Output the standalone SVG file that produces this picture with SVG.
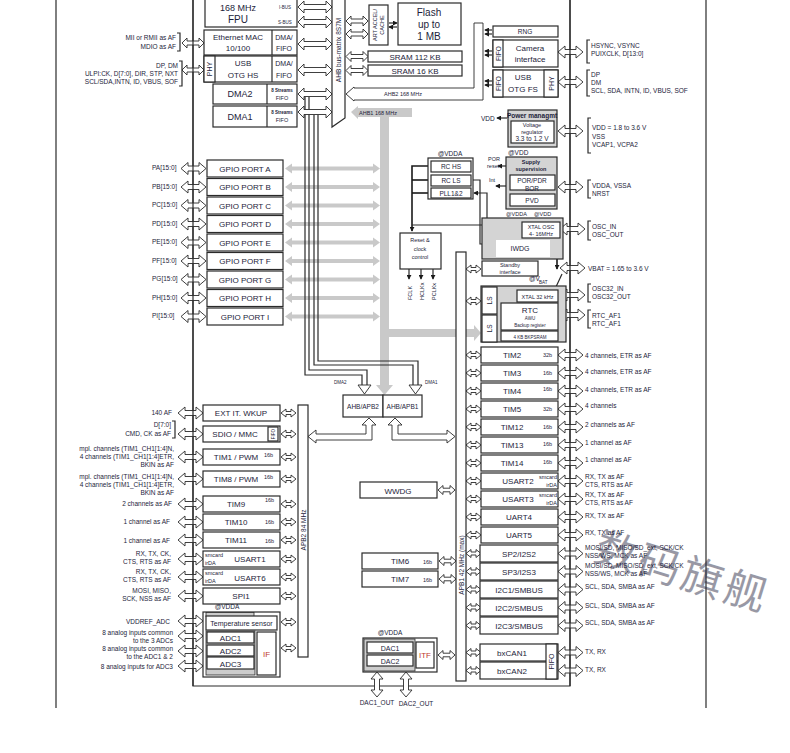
<svg xmlns="http://www.w3.org/2000/svg" width="790" height="753" viewBox="0 0 790 753">
<defs>
<style>
text{font-family:"Liberation Sans",Arial,sans-serif;fill:#1d1d3a}
.b{fill:#fff;stroke:#2a2a2a;stroke-width:1.2}
.g{fill:#d4d4d4;stroke:#2a2a2a;stroke-width:1.2}
.a{fill:#fff;stroke:#2a2a2a;stroke-width:0.9}
.ln{fill:none;stroke:#2a2a2a;stroke-width:1.2}
.ck{fill:none;stroke:#1a1a1a;stroke-width:1.6}
.gr{fill:#c9c9c9}
.m{text-anchor:middle}
.e{text-anchor:end}
.f9{font-size:9px}
.f8{font-size:8px}
.f7{font-size:7px}
.f6{font-size:6.5px}
.f5{font-size:5.5px}
.f4{font-size:4.5px}
.red{fill:#c0392b}
</style>
<path id="dA" d="M0,0 L7,-6 L7,-2.5 L18,-2.5 L18,-6 L25,0 L18,6 L18,2.5 L7,2.5 L7,6 Z"/>
<path id="dS" d="M0,0 L5,-4 L5,-1.5 L10,-1.5 L10,-4 L15,0 L10,4 L10,1.5 L5,1.5 L5,4 Z"/>
<path id="dM" d="M0,0 L5,-4.5 L5,-1.8 L12,-1.8 L12,-4.5 L17,0 L12,4.5 L12,1.8 L5,1.8 L5,4.5 Z"/>
<path id="dT" d="M0,0 L6,-6 L6,-2.5 L28,-2.5 L28,-6 L34,0 L28,6 L28,2.5 L6,2.5 L6,6 Z"/>
<path id="dR" d="M0,0 L5,-5 L5,-2 L17,-2 L17,-5 L22,0 L17,5 L17,2 L5,2 L5,5 Z"/>
<path id="gA" d="M0,0 L7,-5 L7,-2 L88,-2 L88,-5 L95,0 L88,5 L88,2 L7,2 L7,5 Z"/>
<marker id="ah" viewBox="0 0 6 6" refX="5" refY="3" markerWidth="5" markerHeight="5" markerUnits="userSpaceOnUse" orient="auto"><path d="M0,0 L6,3 L0,6 Z" fill="#1a1a1a"/></marker>
</defs>
<rect width="790" height="753" fill="#fff"/>

<g id="frame" class="ln">
<line x1="56" y1="0" x2="56" y2="708"/>
<line x1="706" y1="0" x2="706" y2="708"/>
</g>

<!-- gray AHB1 bus -->
<g id="ahb1-bus">
<path class="gr" d="M351,112 L358,106 L358,108 L412,108 L412,117 L389,117 L389,385 L393,385 L384.5,395 L376,385 L380,385 L380,117 L358,117 L358,119 Z"/>
<path class="gr" d="M389,329 L474,329 L474,325 L481,333 L474,341 L474,337 L389,337 Z"/>
<use href="#gA" class="gr" x="285" y="168.5"/>
<use href="#gA" class="gr" x="285" y="187"/>
<use href="#gA" class="gr" x="285" y="205.5"/>
<use href="#gA" class="gr" x="285" y="224"/>
<use href="#gA" class="gr" x="285" y="242.5"/>
<use href="#gA" class="gr" x="285" y="261"/>
<use href="#gA" class="gr" x="285" y="279.5"/>
<use href="#gA" class="gr" x="285" y="298"/>
<use href="#gA" class="gr" x="285" y="316.5"/>
<text class="f5" x="359" y="114.5">AHB1 168 MHz</text>
</g>

<g id="connectors">
<path class="ln" stroke-width="1.5" d="M193,0 V686 H570 V0"/>
<path class="ln" stroke-width="1" d="M305,97 V375 H362 V385"/>
<path class="ln" stroke-width="1" d="M309,97 V370 H367 V385"/>
<path class="a" d="M358,385 L371,385 L364.5,394 Z"/>
<path class="ln" stroke-width="1" d="M314,115 V365 H413 V385"/>
<path class="ln" stroke-width="1" d="M318,115 V361 H418 V385"/>
<path class="a" d="M409,385 L422,385 L415.5,394 Z"/>
<text class="f4" x="334" y="384">DMA2</text>
<text class="f4" x="425" y="384">DMA1</text>
<path class="a" d="M308,436.5 L316,430 L316,434 L366,434 L366,425 L362,425 L369,418 L376,425 L372,425 L372,440 L316,440 L316,443 Z"/>
<path class="a" d="M455,436.5 L447,430 L447,434 L398,434 L398,425 L402,425 L395,418 L388,425 L392,425 L392,440 L447,440 L447,443 Z"/>
<path class="a" d="M346,94 L354,87 L354,88 L474,88 L474,23 L483,23 L483,100 L354,100 L354,101 Z"/>
<text class="f5" x="384" y="96">AHB2 168 MHz</text>
<use href="#dT" class="a" x="298" y="7"/>
<use href="#dT" class="a" x="298" y="22"/>
<use href="#dT" class="a" x="298" y="44"/>
<use href="#dT" class="a" x="298" y="70"/>
<use href="#dT" class="a" x="298" y="94"/>
<use href="#dT" class="a" x="298" y="112"/>
<use href="#dR" class="a" x="346" y="21"/>
<use href="#dR" class="a" x="346" y="34"/>
<use href="#dR" class="a" x="346" y="56.5"/>
<use href="#dR" class="a" x="346" y="70.5"/>
<line class="ln" stroke-width="0.9" x1="389" y1="23" x2="397" y2="23" marker-end="url(#ah)"/>
<line class="ln" stroke-width="0.9" x1="397" y1="27" x2="389" y2="27" marker-end="url(#ah)"/>
<line class="ln" stroke-width="0.9" x1="492" y1="30" x2="485" y2="30" marker-end="url(#ah)"/>
<line class="ln" stroke-width="0.9" x1="492" y1="34" x2="485" y2="34" marker-end="url(#ah)"/>
<line class="ln" stroke-width="0.9" x1="492" y1="51" x2="485" y2="51" marker-end="url(#ah)"/>
<line class="ln" stroke-width="0.9" x1="492" y1="55" x2="485" y2="55" marker-end="url(#ah)"/>
<line class="ln" stroke-width="0.9" x1="492" y1="81" x2="485" y2="81" marker-end="url(#ah)"/>
<line class="ln" stroke-width="0.9" x1="492" y1="85" x2="485" y2="85" marker-end="url(#ah)"/>
<use href="#dR" class="a" x="182" y="43"/>
<use href="#dR" class="a" x="182" y="70"/>
<use href="#dA" class="a" x="181" y="168.5"/>
<use href="#dA" class="a" x="181" y="187"/>
<use href="#dA" class="a" x="181" y="205.5"/>
<use href="#dA" class="a" x="181" y="224"/>
<use href="#dA" class="a" x="181" y="242.5"/>
<use href="#dA" class="a" x="181" y="261"/>
<use href="#dA" class="a" x="181" y="279.5"/>
<use href="#dA" class="a" x="181" y="298"/>
<use href="#dA" class="a" x="181" y="316.5"/>
<use href="#dA" class="a" x="178" y="413"/>
<use href="#dA" class="a" x="178" y="434"/>
<use href="#dA" class="a" x="178" y="457"/>
<use href="#dA" class="a" x="178" y="479"/>
<use href="#dA" class="a" x="178" y="504"/>
<use href="#dA" class="a" x="178" y="522"/>
<use href="#dA" class="a" x="178" y="540"/>
<use href="#dA" class="a" x="178" y="559"/>
<use href="#dA" class="a" x="178" y="577"/>
<use href="#dA" class="a" x="178" y="596"/>
<use href="#dA" class="a" x="178" y="621"/>
<use href="#dA" class="a" x="178" y="636"/>
<use href="#dA" class="a" x="178" y="651"/>
<use href="#dA" class="a" x="178" y="666"/>
<use href="#dS" class="a" x="281" y="413"/>
<use href="#dS" class="a" x="281" y="434"/>
<use href="#dS" class="a" x="281" y="457"/>
<use href="#dS" class="a" x="281" y="479"/>
<use href="#dS" class="a" x="281" y="504"/>
<use href="#dS" class="a" x="281" y="522"/>
<use href="#dS" class="a" x="281" y="540"/>
<use href="#dS" class="a" x="281" y="559"/>
<use href="#dS" class="a" x="281" y="577"/>
<use href="#dS" class="a" x="281" y="596"/>
<use href="#dS" class="a" x="281" y="622"/>
<use href="#dS" class="a" x="281" y="648"/>
<use href="#dS" class="a" x="466" y="269"/>
<use href="#dS" class="a" x="466" y="301"/>
<use href="#dS" class="a" x="466" y="355"/>
<use href="#dS" class="a" x="466" y="373"/>
<use href="#dS" class="a" x="466" y="391"/>
<use href="#dS" class="a" x="466" y="409"/>
<use href="#dS" class="a" x="466" y="427"/>
<use href="#dS" class="a" x="466" y="445"/>
<use href="#dS" class="a" x="466" y="463"/>
<use href="#dS" class="a" x="466" y="481"/>
<use href="#dS" class="a" x="466" y="499"/>
<use href="#dS" class="a" x="466" y="517"/>
<use href="#dS" class="a" x="466" y="535"/>
<use href="#dS" class="a" x="466" y="553.5"/>
<use href="#dS" class="a" x="466" y="571.5"/>
<use href="#dS" class="a" x="466" y="589.5"/>
<use href="#dS" class="a" x="466" y="607.5"/>
<use href="#dS" class="a" x="466" y="625.5"/>
<use href="#dS" class="a" x="466" y="652.5"/>
<use href="#dS" class="a" x="466" y="670.5"/>
<use href="#dM" class="a" x="438" y="490"/>
<use href="#dM" class="a" x="439" y="561"/>
<use href="#dM" class="a" x="439" y="579"/>
<use href="#dM" class="a" x="438" y="655"/>
<use href="#dA" class="a" x="558" y="52"/>
<use href="#dA" class="a" x="558" y="82"/>
<use href="#dA" class="a" x="558" y="131"/>
<use href="#dA" class="a" x="558" y="187"/>
<use href="#dA" class="a" x="560" y="229"/>
<use href="#dA" class="a" x="560" y="268"/>
<use href="#dA" class="a" x="560" y="295"/>
<use href="#dA" class="a" x="560" y="315"/>
<use href="#dA" class="a" x="558" y="355"/>
<use href="#dA" class="a" x="558" y="373"/>
<use href="#dA" class="a" x="558" y="391"/>
<use href="#dA" class="a" x="558" y="409"/>
<use href="#dA" class="a" x="558" y="427"/>
<use href="#dA" class="a" x="558" y="445"/>
<use href="#dA" class="a" x="558" y="463"/>
<use href="#dA" class="a" x="558" y="481"/>
<use href="#dA" class="a" x="558" y="499"/>
<use href="#dA" class="a" x="558" y="517"/>
<use href="#dA" class="a" x="558" y="535"/>
<use href="#dA" class="a" x="558" y="553.5"/>
<use href="#dA" class="a" x="558" y="571.5"/>
<use href="#dA" class="a" x="558" y="589.5"/>
<use href="#dA" class="a" x="558" y="607.5"/>
<use href="#dA" class="a" x="558" y="625.5"/>
<use href="#dA" class="a" x="558" y="652.5"/>
<use href="#dA" class="a" x="558" y="670.5"/>
<use href="#dA" class="a" transform="translate(377,672) rotate(90)"/>
<use href="#dA" class="a" transform="translate(406,672) rotate(90)"/>
<line class="ln" x1="193" y1="0" x2="193" y2="686"/>
<line class="ln" x1="570" y1="0" x2="570" y2="686"/>
<path class="ck" d="M431,166 H412 V231" marker-end="url(#ah)"/>
<path class="ck" d="M431,180 H412"/>
<path class="ck" d="M431,193 H412"/>
<path class="ln" d="M522,225 H412"/>
<path class="ln" d="M487,225 V193 H474" marker-end="url(#ah)"/>
<path class="ln" d="M471,180 H480 V244 H494" marker-end="url(#ah)"/>
<line class="ln" x1="409" y1="269" x2="409" y2="279" marker-end="url(#ah)"/>
<line class="ln" x1="421" y1="269" x2="421" y2="279" marker-end="url(#ah)"/>
<line class="ln" x1="433" y1="269" x2="433" y2="279" marker-end="url(#ah)"/>
<line class="ln" x1="507" y1="118" x2="497" y2="118" marker-end="url(#ah)"/>
<path class="ln" d="M506,166 H498" marker-end="url(#ah)"/>
<path class="ln" d="M506,186 H496" marker-end="url(#ah)"/>
<line class="ck" x1="557" y1="259" x2="557" y2="269" marker-end="url(#ah)"/>
<line class="ln" x1="555" y1="289" x2="562" y2="274"/>
<path class="ln" d="M517,296 H507 V302" marker-end="url(#ah)"/>
<path class="ln" stroke-width="1" d="M177,33 H180 V51 H177 M179,61 H182 V86 H179 M172,421 H175 V438 H172 M590,40 H587 V63 H590 M590,70 H587 V96 H590 M591,118 H588 V153 H591 M591,180 H588 V198 H591 M591,221 H588 V240 H591 M591,284 H588 V302 H591 M591,310 H588 V328 H591"/>
</g>

<g id="fpu"><rect class="b" x="205" y="-2" width="92" height="29"/><text class="m f9" x="238" y="11">168 MHz</text><text class="m" font-size="10" x="238" y="23">FPU</text><text class="m f4" x="285" y="9">I-BUS</text><text class="m f4" x="285" y="24">S-BUS</text></g>
<g id="ethernet"><rect class="b" x="204" y="30" width="93" height="25"/><line class="ln" x1="272" y1="30" x2="272" y2="55"/><text class="m f8" x="238" y="40" font-size="8.5">Ethernet MAC</text><text class="m f8" x="238" y="51">10/100</text><text class="m f7" x="284" y="40">DMA/</text><text class="m f7" x="284" y="51">FIFO</text></g>
<g id="usb-hs"><rect class="b" x="204" y="56" width="93" height="26"/><rect class="b" x="204" y="56" width="11" height="26"/><line class="ln" x1="272" y1="56" x2="272" y2="82"/><text class="m f7" transform="translate(212,69) rotate(-90)">PHY</text><text class="m f8" x="243" y="66" font-size="8.5">USB</text><text class="m f8" x="243" y="78" font-size="8.5">OTG HS</text><text class="m f7" x="284" y="66">DMA/</text><text class="m f7" x="284" y="78">FIFO</text></g>
<g id="dma2"><rect class="b" x="213" y="84" width="84" height="20"/><line class="ln" x1="267" y1="84" x2="267" y2="104"/><text class="m f9" x="240" y="97">DMA2</text><text class="m f4" x="282" y="92" font-weight="bold">8 Streams</text><text class="m f5" x="282" y="100">FIFO</text></g>
<g id="dma1"><rect class="b" x="213" y="106" width="84" height="21"/><line class="ln" x1="267" y1="106" x2="267" y2="127"/><text class="m f9" x="240" y="120">DMA1</text><text class="m f4" x="282" y="114" font-weight="bold">8 Streams</text><text class="m f5" x="282" y="122">FIFO</text></g>
<g id="bus-matrix"><polygon class="b" points="332,-2 345,-2 345,118 332,127"/><text class="m f6" transform="translate(341,50) rotate(-90)">AHB bus-matrix 8S7M</text></g>
<g id="art"><rect class="b" x="369" y="5" width="19" height="40"/><text class="m f5" transform="translate(377,25) rotate(-90)">ART ACCEL/</text><text class="m f5" transform="translate(384,25) rotate(-90)">CACHE</text></g>
<g id="flash"><rect class="b" x="398" y="3" width="63" height="42"/><text class="m" font-size="10" x="429" y="16">Flash</text><text class="m" font-size="10" x="429" y="28">up to</text><text class="m" font-size="10" x="429" y="40">1 MB</text></g>
<g id="sram112"><rect class="b" x="368" y="51" width="94" height="11"/><text class="m f8" x="415" y="59.5">SRAM 112 KB</text></g>
<g id="sram16"><rect class="b" x="368" y="65" width="94" height="11"/><text class="m f8" x="415" y="73.5">SRAM 16 KB</text></g>

<g id="rng"><rect class="b" x="493" y="26" width="65" height="11"/><text class="m f6" x="525" y="34">RNG</text></g>
<g id="camera"><rect class="b" x="493" y="40" width="65" height="27"/><rect class="b" x="493" y="40" width="10" height="27"/><text class="m f6" transform="translate(500.5,53.5) rotate(-90)">FIFO</text><text class="m f8" font-size="8.5" x="530" y="51">Camera</text><text class="m f8" font-size="8.5" x="530" y="62">interface</text></g>
<g id="usb-fs"><rect class="b" x="493" y="70" width="65" height="27"/><rect class="b" x="493" y="70" width="10" height="27"/><rect class="b" x="544" y="70" width="14" height="27"/><text class="m f6" transform="translate(500.5,83.5) rotate(-90)">FIFO</text><text class="m f7" transform="translate(553.5,83.5) rotate(-90)">PHY</text><text class="m f8" font-size="8.5" x="523" y="80">USB</text><text class="m f8" font-size="8.5" x="523" y="92">OTG FS</text></g>

<g id="labels-top">
<text class="e f6" x="176" y="40">MII or RMII as AF</text>
<text class="e f6" x="176" y="49">MDIO as AF</text>
<text class="e f6" x="178" y="68">DP, DM</text>
<text class="e f6" x="178" y="76">ULPI:CK, D[7:0], DIR, STP, NXT</text>
<text class="e f6" x="178" y="84">SCL/SDA,INTN, ID, VBUS, SOF</text>
<text class="f6" x="591" y="48">HSYNC, VSYNC</text>
<text class="f6" x="591" y="56">PUIXCLK, D[13:0]</text>
<text class="f6" x="591" y="77">DP</text>
<text class="f6" x="591" y="85">DM</text>
<text class="f6" x="591" y="93">SCL, SDA, INTN, ID, VBUS, SOF</text>
</g>

<g id="power"><rect class="g" x="508" y="110" width="49" height="37"/><text class="m f6" font-weight="bold" x="532" y="118">Power managmt</text><rect class="b" x="511" y="121" width="43" height="22"/><text class="m f5" x="532" y="127">Voltage</text><text class="m f5" x="532" y="133.5">regulator</text><text class="m f6" x="532" y="140.5">3.3 to 1.2 V</text></g>
<text class="f6" x="481" y="120.5">VDD</text>
<text class="f6" x="508" y="154.5">@VDD</text>
<g id="labels-power">
<text class="f6" x="592" y="130">VDD = 1.8 to 3.6 V</text>
<text class="f6" x="592" y="139">VSS</text>
<text class="f6" x="592" y="147">VCAP1, VCPA2</text>
<text class="f6" x="592" y="188">VDDA, VSSA</text>
<text class="f6" x="592" y="196">NRST</text>
<text class="f6" x="592" y="229">OSC_IN</text>
<text class="f6" x="592" y="237">OSC_OUT</text>
<text class="f6" x="588" y="270.5">VBAT = 1.65 to 3.6 V</text>
<text class="f6" x="592" y="291">OSC32_IN</text>
<text class="f6" x="592" y="299">OSC32_OUT</text>
<text class="f6" x="592" y="318">RTC_AF1</text>
<text class="f6" x="592" y="326">RTC_AF1</text>
</g>
<g id="rc"><text class="m f6" x="450" y="155.5">@VDDA</text><rect class="b" x="428" y="158" width="45" height="41" stroke-width="1.6"/><rect class="b" x="431" y="161" width="40" height="11"/><text class="m f6" x="451" y="169">RC HS</text><rect class="b" x="431" y="175" width="40" height="11"/><text class="m f6" x="451" y="183">RC LS</text><rect class="b" x="431" y="188" width="40" height="10"/><text class="m f6" x="451" y="195.5">PLL1&amp;2</text></g>
<g id="supply"><rect class="g" x="506" y="157" width="51" height="52"/><text class="m f5" font-weight="bold" x="531" y="164">Supply</text><text class="m f5" font-weight="bold" x="531" y="171">supervision</text><rect class="b" x="510" y="175" width="45" height="15"/><text class="m f6" x="532" y="183">POR/PDR</text><text class="m f6" x="532" y="190.5">BOR</text><rect class="b" x="510" y="194" width="45" height="12"/><text class="m f6" x="532" y="202.5">PVD</text></g>
<text class="f5" x="488" y="161">POR</text>
<text class="f5" x="487" y="168">reset</text>
<text class="f5" x="489" y="182">Int</text>
<text class="f5" x="506" y="216">@VDDA</text>
<text class="f5" x="534" y="215.5">@VDD</text>
<g id="reset-clock"><rect class="b" x="400" y="233" width="41" height="36"/><text class="m f5" x="420" y="242">Reset &amp;</text><text class="m f5" x="420" y="250.5">clock</text><text class="m f5" x="420" y="259">control</text><text class="f5" transform="translate(411.5,300) rotate(-90)">FCLK</text><text class="f5" transform="translate(423.5,300) rotate(-90)">HCLKx</text><text class="f5" transform="translate(435.5,300) rotate(-90)">PCLKx</text></g>
<g id="xtal-iwdg"><rect class="g" x="482" y="218" width="81" height="41"/><rect class="b" x="522" y="222" width="38" height="16"/><text class="m f5" x="541" y="229">XTAL OSC</text><text class="m f5" x="541" y="236">4- 16MHz</text><rect fill="#fff" stroke="none" x="496" y="240" width="54" height="17"/><text class="m f7" x="520" y="251">IWDG</text></g>
<g id="standby"><rect class="b" x="482" y="261" width="56" height="15"/><text class="m f5" x="510" y="267">Standby</text><text class="m f5" x="510" y="274">interface</text></g>
<text class="f6" x="529" y="281">@V</text><text class="f4" x="539" y="283.5">BAT</text>
<g id="rtc"><rect class="g" x="481" y="286" width="85" height="56"/><rect class="b" x="482" y="287" width="15" height="27"/><rect class="b" x="482" y="315" width="15" height="27"/><text class="m f6" transform="translate(492,300.5) rotate(-90)">LS</text><text class="m f6" transform="translate(492,328.5) rotate(-90)">LS</text><rect class="b" x="517" y="290" width="41" height="12"/><text class="m f5" x="537.5" y="298.5">XTAL 32 kHz</text><rect class="b" x="501" y="303" width="57" height="27"/><text class="m f8" x="530" y="312.5">RTC</text><text class="m f4" x="530" y="320">AWU</text><text class="m f4" x="530" y="326.5">Backup register</text><rect class="b" x="501" y="331" width="57" height="10"/><text class="m f4" x="530" y="338.5">4 KB BKPSRAM</text></g>

<g id="gpio-a"><rect class="b" x="207" y="160" width="76" height="17"/><text class="m f8" x="245" y="171.5">GPIO PORT A</text><text class="f6" x="152" y="170">PA[15:0]</text></g>
<g id="gpio-b"><rect class="b" x="207" y="178.5" width="76" height="17"/><text class="m f8" x="245" y="190">GPIO PORT B</text><text class="f6" x="152" y="188.5">PB[15:0]</text></g>
<g id="gpio-c"><rect class="b" x="207" y="197" width="76" height="17"/><text class="m f8" x="245" y="208.5">GPIO PORT C</text><text class="f6" x="152" y="207">PC[15:0]</text></g>
<g id="gpio-d"><rect class="b" x="207" y="215.5" width="76" height="17"/><text class="m f8" x="245" y="227">GPIO PORT D</text><text class="f6" x="152" y="225.5">PD[15:0]</text></g>
<g id="gpio-e"><rect class="b" x="207" y="234" width="76" height="17"/><text class="m f8" x="245" y="245.5">GPIO PORT E</text><text class="f6" x="152" y="244">PE[15:0]</text></g>
<g id="gpio-f"><rect class="b" x="207" y="252.5" width="76" height="17"/><text class="m f8" x="245" y="264">GPIO PORT F</text><text class="f6" x="152" y="262.5">PF[15:0]</text></g>
<g id="gpio-g"><rect class="b" x="207" y="271" width="76" height="17"/><text class="m f8" x="245" y="282.5">GPIO PORT G</text><text class="f6" x="152" y="281">PG[15:0]</text></g>
<g id="gpio-h"><rect class="b" x="207" y="289.5" width="76" height="17"/><text class="m f8" x="245" y="301">GPIO PORT H</text><text class="f6" x="152" y="299.5">PH[15:0]</text></g>
<g id="gpio-i"><rect class="b" x="207" y="308" width="76" height="17"/><text class="m f8" x="245" y="319.5">GPIO PORT I</text><text class="f6" x="152" y="318">PI[15:0]</text></g>

<g id="ahb-apb2"><rect class="b" x="343" y="395" width="40" height="22"/><text class="m f6" x="363" y="408.5">AHB/APB2</text></g>
<g id="ahb-apb1"><rect class="b" x="383" y="395" width="39" height="22"/><text class="m f6" x="402.5" y="408.5">AHB/APB1</text></g>
<g id="apb2"><rect class="b" x="298" y="405" width="10" height="252"/><text class="m f6" transform="translate(305.5,530) rotate(-90)">APB2 84 MHz</text></g>
<g id="apb1"><rect class="b" x="456" y="252" width="10" height="429"/><text class="m f6" transform="translate(463.5,565) rotate(-90)">APB1 42 MHz (max)</text></g>

<g id="extit"><rect class="b" x="203" y="405" width="77" height="16"/><text class="m f8" x="241" y="416">EXT IT. WKUP</text><text class="e f6" x="172" y="415">140 AF</text></g>
<g id="sdio"><rect class="b" x="203" y="426" width="77" height="16"/><rect class="b" x="268" y="427" width="10" height="14"/><text class="m f4" transform="translate(274.5,434) rotate(-90)">FIFO</text><text class="m f8" x="235" y="437">SDIO / MMC</text><text class="e f6" x="171" y="427">D[7:0]</text><text class="e f6" x="171" y="436">CMD, CK as AF</text></g>
<g id="tim1"><rect class="b" x="203" y="449" width="77" height="16"/><text class="m f8" x="236" y="460">TIM1 / PWM</text><text class="f5" x="264" y="457">16b</text><text class="e f6" x="174" y="451">mpl. channels (TIM1_CH1[1:4]N,</text><text class="e f6" x="174" y="459">4 channels (TIM1_CH1[1:4]ETR,</text><text class="e f6" x="174" y="467">BKIN as AF</text></g>
<g id="tim8"><rect class="b" x="203" y="471" width="77" height="16"/><text class="m f8" x="236" y="482">TIM8 / PWM</text><text class="f5" x="264" y="479">16b</text><text class="e f6" x="174" y="479">mpl. channels (TIM1_CH1[1:4]N,</text><text class="e f6" x="174" y="487">4 channels (TIM1_CH1[1:4]ETR,</text><text class="e f6" x="174" y="495">BKIN as AF</text></g>
<g id="tim9"><rect class="b" x="203" y="496" width="77" height="16"/><text class="m f8" x="236" y="507">TIM9</text><text class="f5" x="265" y="502">16b</text><text class="e f6" x="172" y="506">2 channels as AF</text></g>
<g id="tim10"><rect class="b" x="203" y="514" width="77" height="16"/><text class="m f8" x="236" y="525">TIM10</text><text class="f5" x="265" y="524">16b</text><text class="e f6" x="170" y="524">1 channel as AF</text></g>
<g id="tim11"><rect class="b" x="203" y="532" width="77" height="16"/><text class="m f8" x="236" y="543">TIM11</text><text class="f5" x="265" y="543">16b</text><text class="e f6" x="170" y="543">1 channel as AF</text></g>
<g id="usart1"><rect class="b" x="203" y="551" width="77" height="16"/><text class="f5" x="205" y="557">smcard</text><text class="f5" x="205" y="565">irDA</text><text class="m f8" x="250" y="562">USART1</text><text class="e f6" x="171" y="556">RX, TX, CK,</text><text class="e f6" x="171" y="564">CTS, RTS as AF</text></g>
<g id="usart6"><rect class="b" x="203" y="569" width="77" height="16"/><text class="f5" x="205" y="575">smcard</text><text class="f5" x="205" y="583">irDA</text><text class="m f8" x="250" y="581">USART6</text><text class="e f6" x="171" y="574">RX, TX, CK,</text><text class="e f6" x="171" y="582">CTS, RTS as AF</text></g>
<g id="spi1"><rect class="b" x="203" y="588" width="77" height="16"/><text class="m f8" x="241" y="599">SPI1</text><text class="e f6" x="171" y="593">MOSI, MISO,</text><text class="e f6" x="171" y="601">SCK, NSS as AF</text></g>
<g id="adc"><text class="m f6" x="227" y="609">@VDDA</text><rect class="b" x="203" y="612" width="77" height="65"/><rect fill="#ccc" stroke="#2a2a2a" stroke-width="0.8" x="206" y="612.5" width="48" height="4"/><rect class="b" x="206" y="616" width="71" height="14"/><text class="m f7" x="241.5" y="626">Temperature sensor</text><rect fill="#ccc" stroke="#2a2a2a" stroke-width="0.8" x="206" y="631" width="49" height="44"/><rect class="b" x="207" y="632" width="47" height="11"/><text class="m f8" x="230.5" y="641">ADC1</text><rect class="b" x="207" y="645" width="47" height="11"/><text class="m f8" x="230.5" y="654">ADC2</text><rect class="b" x="207" y="657" width="47" height="12"/><text class="m f8" x="230.5" y="666.5">ADC3</text><rect class="b" x="257" y="632" width="19" height="43"/><text class="m f8 red" x="266.5" y="657">IF</text></g>
<g id="labels-adc">
<text class="e f6" x="170" y="624">VDDREF_ADC</text>
<text class="e f6" x="173" y="635">8 analog inputs common</text>
<text class="e f6" x="173" y="643">to the 3 ADCs</text>
<text class="e f6" x="173" y="651">8 analog inputs common</text>
<text class="e f6" x="173" y="659">to the ADC1 &amp; 2</text>
<text class="e f6" x="173" y="669">8 analog inputs for ADC3</text>
</g>

<g id="wwdg"><rect class="b" x="360" y="482" width="77" height="16"/><text class="m f8" x="398" y="493.5">WWDG</text></g>
<g id="tim6"><rect class="b" x="362" y="553" width="76" height="16"/><text class="m f8" x="400" y="564">TIM6</text><text class="f5" x="423" y="564">16b</text></g>
<g id="tim7"><rect class="b" x="362" y="571" width="76" height="16"/><text class="m f8" x="400" y="582">TIM7</text><text class="f5" x="423" y="582">16b</text></g>
<g id="dac"><text class="m f6" x="390" y="635">@VDDA</text><rect class="b" x="363" y="638" width="74" height="34"/><rect fill="#ccc" stroke="#2a2a2a" stroke-width="0.8" x="364" y="639" width="51" height="32"/><rect class="b" x="367" y="642" width="46" height="11"/><text class="m f7" x="390" y="650.5">DAC1</text><rect class="b" x="367" y="655" width="46" height="11"/><text class="m f7" x="390" y="663.5">DAC2</text><rect class="b" x="416" y="642" width="18" height="26"/><text class="m f8 red" x="425" y="658">ITF</text><text class="m f6" x="377" y="705">DAC1_OUT</text><text class="m f6" x="416" y="706">DAC2_OUT</text></g>

<g id="tim2"><rect class="b" x="481" y="347" width="77" height="16"/><text class="m f8" x="512" y="358">TIM2</text><text class="f5" x="543" y="357">32b</text></g>
<g id="tim3"><rect class="b" x="481" y="365" width="77" height="16"/><text class="m f8" x="512" y="376">TIM3</text><text class="f5" x="543" y="375">16b</text></g>
<g id="tim4"><rect class="b" x="481" y="383" width="77" height="16"/><text class="m f8" x="512" y="394">TIM4</text><text class="f5" x="543" y="391">16b</text></g>
<g id="tim5"><rect class="b" x="481" y="401" width="77" height="16"/><text class="m f8" x="512" y="412">TIM5</text><text class="f5" x="543" y="411">32b</text></g>
<g id="tim12"><rect class="b" x="481" y="419" width="77" height="16"/><text class="m f8" x="512" y="430">TIM12</text><text class="f5" x="543" y="429">16b</text></g>
<g id="tim13"><rect class="b" x="481" y="437" width="77" height="16"/><text class="m f8" x="512" y="448">TIM13</text><text class="f5" x="543" y="446">16b</text></g>
<g id="tim14"><rect class="b" x="481" y="455" width="77" height="16"/><text class="m f8" x="512" y="466">TIM14</text><text class="f5" x="543" y="464">16b</text></g>
<g id="usart2"><rect class="b" x="481" y="473" width="77" height="16"/><text class="m f8" x="518" y="484">USART2</text><text class="e f5" x="557" y="479">smcard</text><text class="e f5" x="557" y="487">irDA</text></g>
<g id="usart3"><rect class="b" x="481" y="491" width="77" height="16"/><text class="m f8" x="518" y="502">USART3</text><text class="e f5" x="557" y="497">smcard</text><text class="e f5" x="557" y="505">irDA</text></g>
<g id="uart4"><rect class="b" x="481" y="509" width="77" height="16"/><text class="m f8" x="519" y="520">UART4</text></g>
<g id="uart5"><rect class="b" x="481" y="527" width="77" height="16"/><text class="m f8" x="519" y="538">UART5</text></g>
<g id="spi2"><rect class="b" x="480" y="545" width="78" height="17"/><text class="m f8" x="519" y="556.5">SP2/I2S2</text></g>
<g id="spi3"><rect class="b" x="480" y="563" width="78" height="17"/><text class="m f8" x="519" y="574.5">SP3/I2S3</text></g>
<g id="i2c1"><rect class="b" x="480" y="581" width="78" height="17"/><text class="m f8" x="519" y="592.5">I2C1/SMBUS</text></g>
<g id="i2c2"><rect class="b" x="480" y="599" width="78" height="17"/><text class="m f8" x="519" y="610.5">I2C2/SMBUS</text></g>
<g id="i2c3"><rect class="b" x="480" y="617" width="78" height="17"/><text class="m f8" x="519" y="628.5">I2C3/SMBUS</text></g>
<g id="bxcan"><rect class="b" x="480" y="644" width="78" height="17"/><text class="m f8" x="512" y="655.5">bxCAN1</text><rect class="b" x="480" y="662" width="78" height="17"/><text class="m f8" x="512" y="673.5">bxCAN2</text><rect class="b" x="546" y="644" width="11" height="35"/><text class="m f7" transform="translate(554,661.5) rotate(-90)">FIFO</text></g>
<g id="labels-apb1">
<text class="f6" x="585" y="358">4 channels, ETR as AF</text>
<text class="f6" x="585" y="374">4 channels, ETR as AF</text>
<text class="f6" x="585" y="392">4 channels, ETR as AF</text>
<text class="f6" x="585" y="408">4 channels</text>
<text class="f6" x="585" y="427">2 channels as AF</text>
<text class="f6" x="585" y="445">1 channel as AF</text>
<text class="f6" x="585" y="462">1 channel as AF</text>
<text class="f6" x="585" y="479">RX, TX as AF</text>
<text class="f6" x="585" y="486.5">CTS, RTS as AF</text>
<text class="f6" x="585" y="497">RX, TX as AF</text>
<text class="f6" x="585" y="505">CTS, RTS as AF</text>
<text class="f6" x="585" y="518">RX, TX as AF</text>
<text class="f6" x="585" y="535">RX, TX as AF</text>
<text class="f6" x="585" y="550">MOSI/SD, MISO/SD_ext, SCK/CK</text>
<text class="f6" x="585" y="557.5">NSS/WS, MCK as AF</text>
<text class="f6" x="585" y="568">MOSI/SD, MISO/SD_ext, SCK/CK</text>
<text class="f6" x="585" y="575.5">NSS/WS, MCK as AF</text>
<text class="f6" x="585" y="589">SCL, SDA, SMBA as AF</text>
<text class="f6" x="585" y="608">SCL, SDA, SMBA as AF</text>
<text class="f6" x="585" y="625">SCL, SDA, SMBA as AF</text>
<text class="f6" x="585" y="654">TX, RX</text>
<text class="f6" x="585" y="672">TX, RX</text>
</g>

<text font-size="42" fill="#9a9a9a" opacity="0.45" letter-spacing="3" transform="rotate(17 592 560)" x="592" y="560" style="font-family:'Noto Sans CJK SC',sans-serif">数码旗舰</text>
</svg>
